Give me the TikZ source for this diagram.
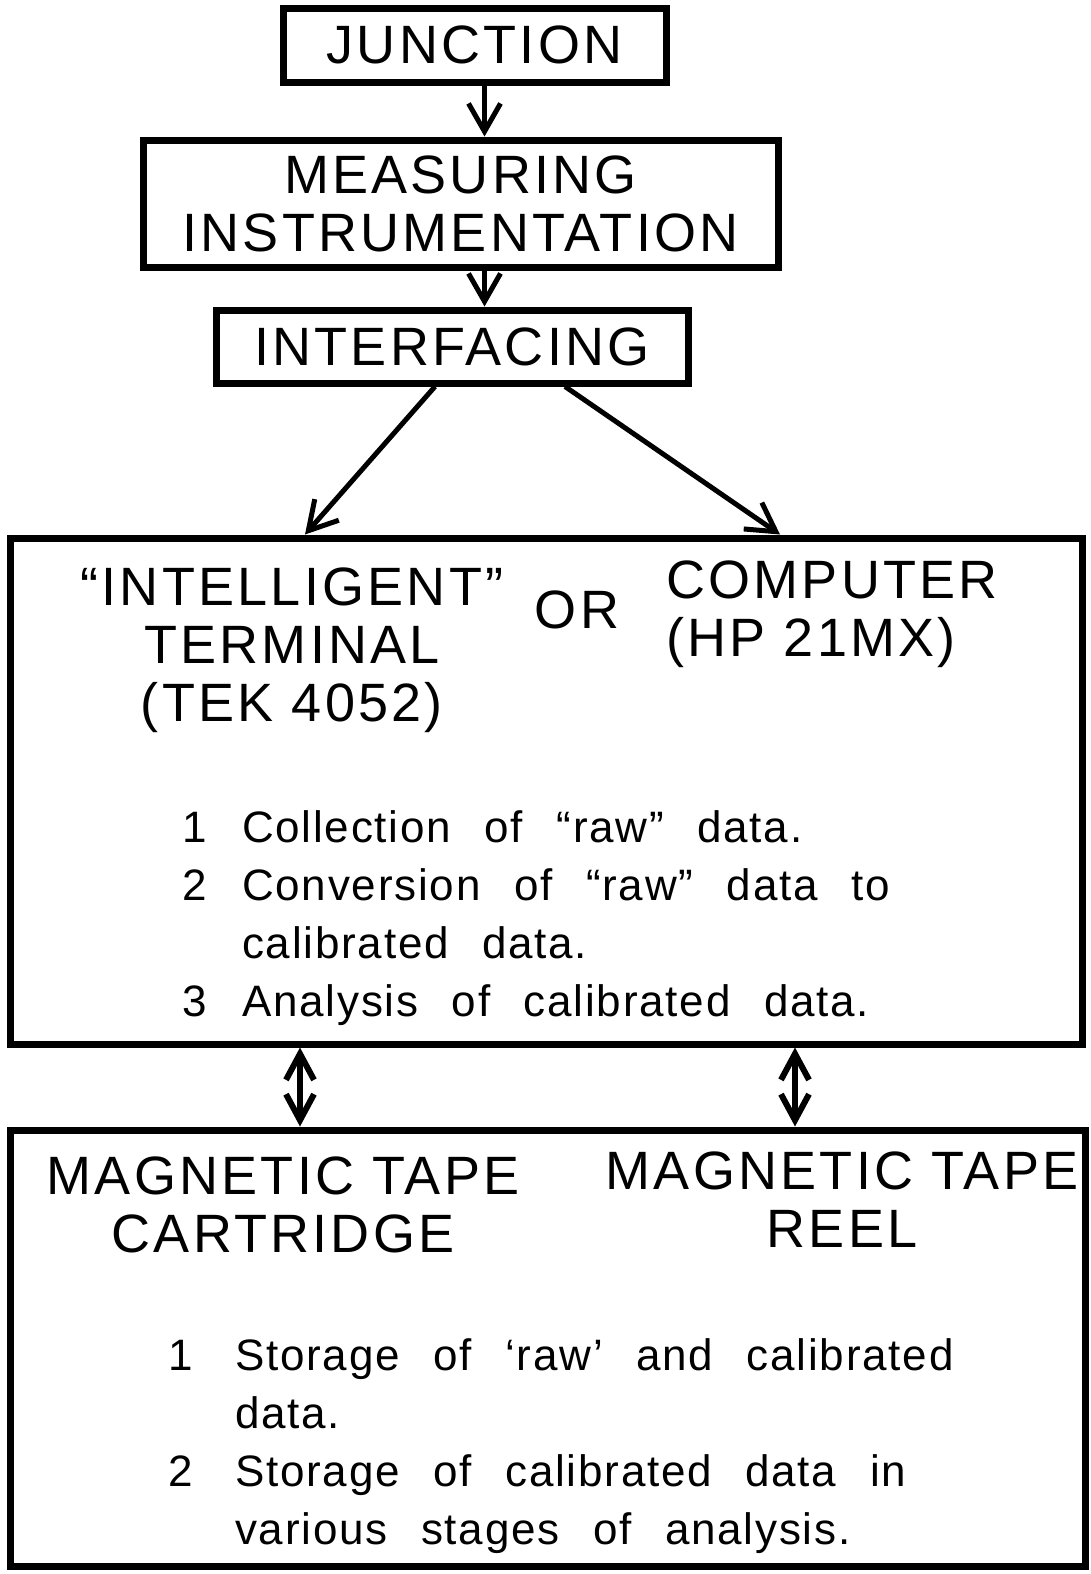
\documentclass[tikz,border=0pt]{standalone}
\usepackage{fontspec}
\setmainfont{Liberation Sans}
\newfontfamily\capsfont[LetterSpace=6]{Liberation Sans}
\newfontfamily\listfont[LetterSpace=4, WordSpace=2.4]{Liberation Sans}
\usetikzlibrary{arrows.meta}
\tikzset{
  box/.style={draw, line width=7pt, inner sep=0pt},
  flow/.style={line width=5pt, -{Straight Barb[length=28pt,width=32pt]}},
  both/.style={line width=6pt, {Straight Barb[length=26pt,width=28pt]}-{Straight Barb[length=26pt,width=28pt]}},
  caps/.style={font=\capsfont\fontsize{54}{58}\selectfont, align=center},
  steps/.style={font=\listfont\fontsize{44}{58}\selectfont, align=left, inner sep=0pt, anchor=north west},
}
\begin{document}
\begin{tikzpicture}[x=1pt, y=-1pt]
    \useasboundingbox (0,0) rectangle (1091,1574);
    \node[box, caps, minimum width=383pt, minimum height=74pt] (junction) at (474.5,45) {JUNCTION};
    \node[box, caps, minimum width=635pt, minimum height=127pt] (measuring) at (460.5,203.5) {MEASURING\\INSTRUMENTATION};
    \node[box, caps, minimum width=472pt, minimum height=73pt] (interfacing) at (452,346.5) {INTERFACING};
    \node[box, minimum width=1072pt, minimum height=506pt] (station) at (546,791) {};
    \node[box, minimum width=1075pt, minimum height=436pt] (tapes) at (547.5,1348) {};
    % station box
    \node[caps, inner sep=0pt] (terminal) at (292,650) {“INTELLIGENT”\\TERMINAL\\(TEK 4052)};
    \node[caps, inner sep=0pt] (or) at (577,610) {OR};
    \node[caps, inner sep=0pt, align=left, anchor=west] (computer) at (666,614) {COMPUTER\\(HP 21MX)};
    \node[steps] (tasks) at (182,810) {\makebox[60pt][l]{1}Collection of “raw” data.\\
        \makebox[60pt][l]{2}Conversion of “raw” data to\\
        \hspace*{60pt}calibrated data.\\
        \makebox[60pt][l]{3}Analysis of calibrated data.};
    % tape box
    \node[caps, inner sep=0pt] (cartridge) at (283,1205) {MAGNETIC TAPE\\CARTRIDGE};
    \node[caps, inner sep=0pt] (reel) at (842,1200) {MAGNETIC TAPE\\REEL};
    \node[steps] (storage) at (168,1338) {\makebox[67pt][l]{1}Storage of ‘raw’ and calibrated\\
        \hspace*{67pt}data.\\
        \makebox[67pt][l]{2}Storage of calibrated data in\\
        \hspace*{67pt}various stages of analysis.};
    \draw [flow] ([xshift=10pt]junction.south) -- ([xshift=10pt]junction.south |- measuring.north);
    \draw [flow] ([xshift=24pt]measuring.south) -- ([xshift=24pt]measuring.south |- interfacing.north);
    \draw [flow] ([xshift=-17pt]interfacing.south) -- ([xshift=-241pt]station.north);
    \draw [flow] ([xshift=113pt]interfacing.south) -- ([xshift=234pt]station.north);
    \draw [both] ([xshift=-246pt]station.south) -- ([xshift=-246pt]station.south |- tapes.north);
    \draw [both] ([xshift=249pt]station.south) -- ([xshift=249pt]station.south |- tapes.north);
\end{tikzpicture}
\end{document}
